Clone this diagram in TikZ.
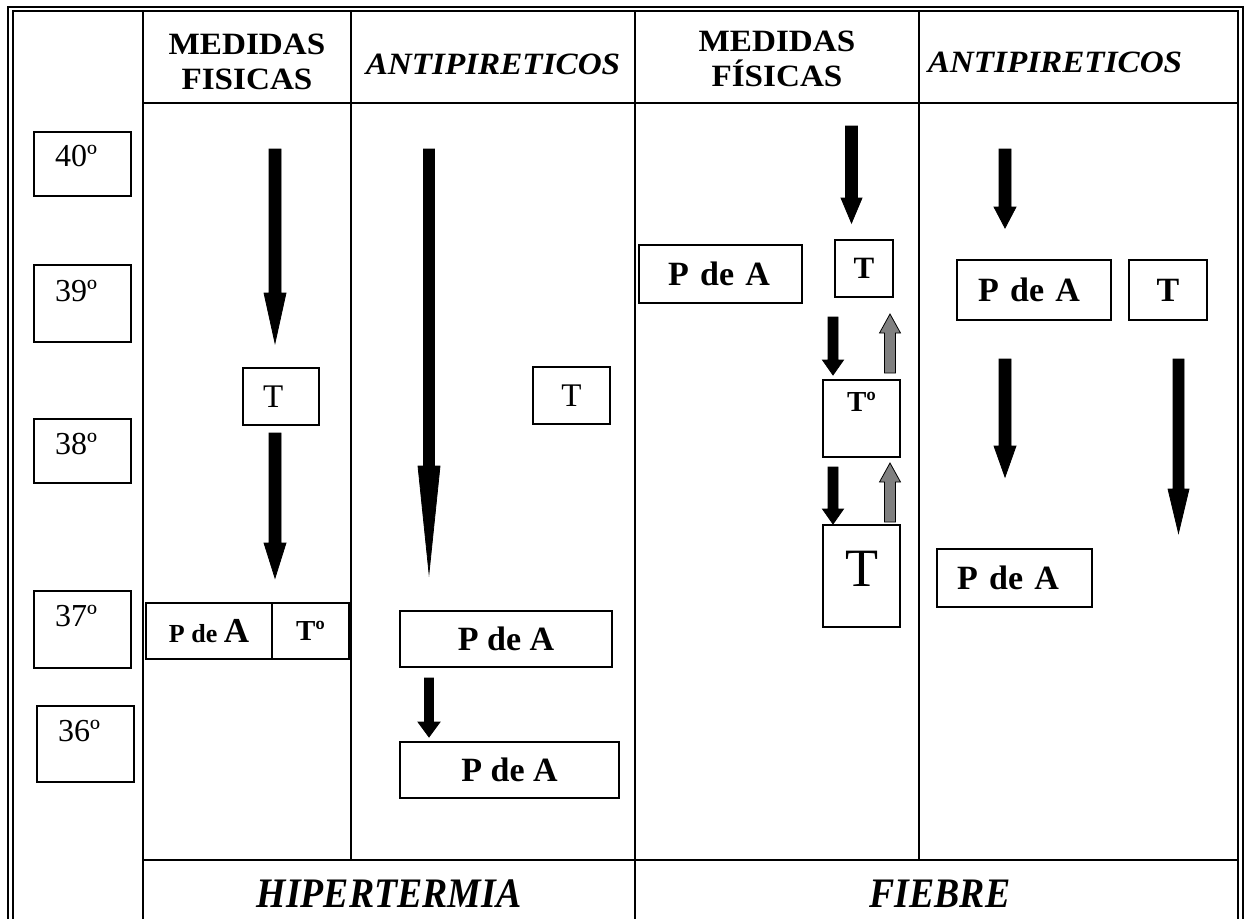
\documentclass[tikz,border=0pt]{standalone}
\usepackage{fontspec}
\setmainfont{Liberation Serif}
\newfontfamily\widefont[FakeStretch=1.07]{Liberation Serif}
\newfontfamily\narrowfont[FakeStretch=0.9]{Liberation Serif}
\usetikzlibrary{positioning,calc}

% block arrow: [fill] {from} {to} {half shaft} {half head} {head length}
\newcommand\blockarrow[6][black]{%
  \coordinate (hb) at ($(#3)!#6!(#2)$);
  \filldraw[fill=#1, draw=black, line width=0.8pt]
    ($(#2)!#4!90:(#3)$) -- ($(hb)!#4!90:(#3)$) -- ($(hb)!#5!90:(#3)$) -- (#3)
    -- ($(hb)!#5!-90:(#3)$) -- ($(hb)!#4!-90:(#3)$) -- ($(#2)!#4!-90:(#3)$) -- cycle;
}

\tikzset{
  frame/.style={line width=1.5pt},
  grid/.style={line width=1.8pt},
  box/.style={draw, line width=1.2pt, inner sep=0pt, outer sep=0pt},
  tempbox/.style={box, minimum width=97pt, inner xsep=21pt, text width=55pt,
    align=left, text depth=#1, font=\fontsize{32}{34}\selectfont},
  rm/.style={font=\fontsize{33}{35}\selectfont},
  bf/.style={font=\fontsize{34}{36}\selectfont\bfseries},
  head/.style={font=\widefont\fontsize{31}{35}\selectfont\bfseries, align=center},
  foot/.style={font=\narrowfont\fontsize{42}{44}\selectfont\bfseries\itshape}
}

\begin{document}
\begin{tikzpicture}[x=1pt, y=-1pt]
  \useasboundingbox (0,0) rectangle (1246,918);

  % frame and table
  \draw[frame] (8,7) rectangle (1243,930);
  \draw[frame] (13,11) rectangle (1238,926);
  \draw[grid] (143,11) -- (143,926);
  \draw[grid] (351,11) -- (351,860);
  \draw[grid] (635,11) -- (635,926);
  \draw[grid] (919,11) -- (919,860);
  \draw[grid] (143,103) -- (1238,103);
  \draw[grid] (143,860) -- (1238,860);

  % headers
  \node[head] (h1) at (247,62) {MEDIDAS\\FISICAS};
  \node[head] (h2) at (493,64) {\itshape ANTIPIRETICOS};
  \node[head] (h3) at (777,59) {MEDIDAS\\FÍSICAS};
  \node[head] (h4) at (1055,62) {\itshape ANTIPIRETICOS};
  \node[foot] (f1) at (389,894) {HIPERTERMIA};
  \node[foot] (f2) at (940,894) {FIEBRE};

  % temperature scale
  \node[tempbox=16pt, minimum height=64pt] (t40) at (82.5,164) {40º};
  \node[tempbox=25pt, minimum height=77pt] (t39) at (82.5,303.5) {39º};
  \node[tempbox=14pt, minimum height=64pt] (t38) at (82.5,451) {38º};
  \node[tempbox=27pt, minimum height=77pt] (t37) at (82.5,629.5) {37º};
  \node[tempbox=26pt, minimum height=76pt] (t36) at (85.5,744) {36º};

  % hipertermia, medidas fisicas
  \node[box, rm, minimum height=57pt, inner xsep=20pt, text width=36pt, align=left] (ht1) at (281,396.5) {T};
  \node[box, minimum width=126pt, minimum height=56pt] (hpa1) at (209,631)
    {\bfseries\fontsize{26}{28}\selectfont P de \fontsize{35}{36}\selectfont A};
  \node[box, minimum width=77pt, minimum height=56pt, font=\fontsize{29}{30}\selectfont\bfseries]
    (hto1) [right=0pt of hpa1] {Tº};

  \coordinate (ha1s) at (275,149);  \coordinate (ha1e) at (275,343);
  \coordinate (ha2s) at (275,433);  \coordinate (ha2e) at (275,578);
  \blockarrow{ha1s}{ha1e}{6pt}{11pt}{50pt}
  \blockarrow{ha2s}{ha2e}{6pt}{11pt}{35pt}

  % hipertermia, antipireticos
  \node[box, rm, minimum width=77pt, minimum height=57pt] (ht2) at (571.5,395.5) {T};
  \node[box, bf, minimum width=212pt, minimum height=56pt] (hpa2) at (506,639) {P de A};
  \node[box, bf, minimum width=219pt, minimum height=56pt] (hpa3) at (509.5,770) {P de A};

  \coordinate (ha3s) at (429,149);  \coordinate (ha3e) at (429,573);
  \coordinate (ha4s) at (429,678);  \coordinate (ha4e) at (429,737);
  \blockarrow{ha3s}{ha3e}{5.5pt}{11pt}{107pt}
  \blockarrow{ha4s}{ha4e}{4.5pt}{11pt}{15pt}

  % fiebre, medidas fisicas
  \node[box, bf, minimum height=58pt, inner xsep=29pt, text width=105pt, align=left] (fpa1) at (720.5,274) {P de A};
  \node[box, minimum width=58pt, minimum height=57pt, font=\fontsize{31}{32}\selectfont\bfseries] (ft1) at (864,268.5) {T};
  \node[box, minimum width=77pt, minimum height=77pt, text depth=34pt, font=\fontsize{29}{30}\selectfont\bfseries] (fto1) at (861.5,418.5) {Tº};
  \node[box, minimum width=77pt, minimum height=102pt, text depth=14pt, font=\fontsize{54}{56}\selectfont] (ft2) at (861.5,576) {T};

  \coordinate (fa1s) at (851.5,126); \coordinate (fa1e) at (851.5,223);
  \coordinate (fa2s) at (833,317);   \coordinate (fa2e) at (833,375);
  \coordinate (fa3s) at (890,373);   \coordinate (fa3e) at (890,314);
  \coordinate (fa4s) at (833,467);   \coordinate (fa4e) at (833,524);
  \coordinate (fa5s) at (890,522);   \coordinate (fa5e) at (890,463);
  \blockarrow{fa1s}{fa1e}{6pt}{10.5pt}{25pt}
  \blockarrow{fa2s}{fa2e}{5pt}{10.5pt}{15pt}
  \blockarrow[gray]{fa3s}{fa3e}{5.5pt}{10.5pt}{19pt}
  \blockarrow{fa4s}{fa4e}{5pt}{10.5pt}{15pt}
  \blockarrow[gray]{fa5s}{fa5e}{5.5pt}{10.5pt}{19pt}

  % fiebre, antipireticos
  \node[box, bf, minimum height=60pt, inner xsep=21pt, text width=112pt, align=left] (fpa2) at (1034,290) {P de A};
  \node[box, bf, minimum width=78pt, minimum height=60pt] (ft3) at (1168,290) {T};
  \node[box, bf, minimum height=58pt, inner xsep=20pt, text width=115pt, align=left] (fpa3) at (1014.5,578) {P de A};

  \coordinate (fa6s) at (1005,149);  \coordinate (fa6e) at (1005,228);
  \coordinate (fa7s) at (1005,359);  \coordinate (fa7e) at (1005,477);
  \coordinate (fa8s) at (1178.5,359); \coordinate (fa8e) at (1178.5,533);
  \blockarrow{fa6s}{fa6e}{6pt}{11pt}{21pt}
  \blockarrow{fa7s}{fa7e}{6pt}{11pt}{31pt}
  \blockarrow{fa8s}{fa8e}{5.5pt}{10.5pt}{44pt}

\end{tikzpicture}
\end{document}
